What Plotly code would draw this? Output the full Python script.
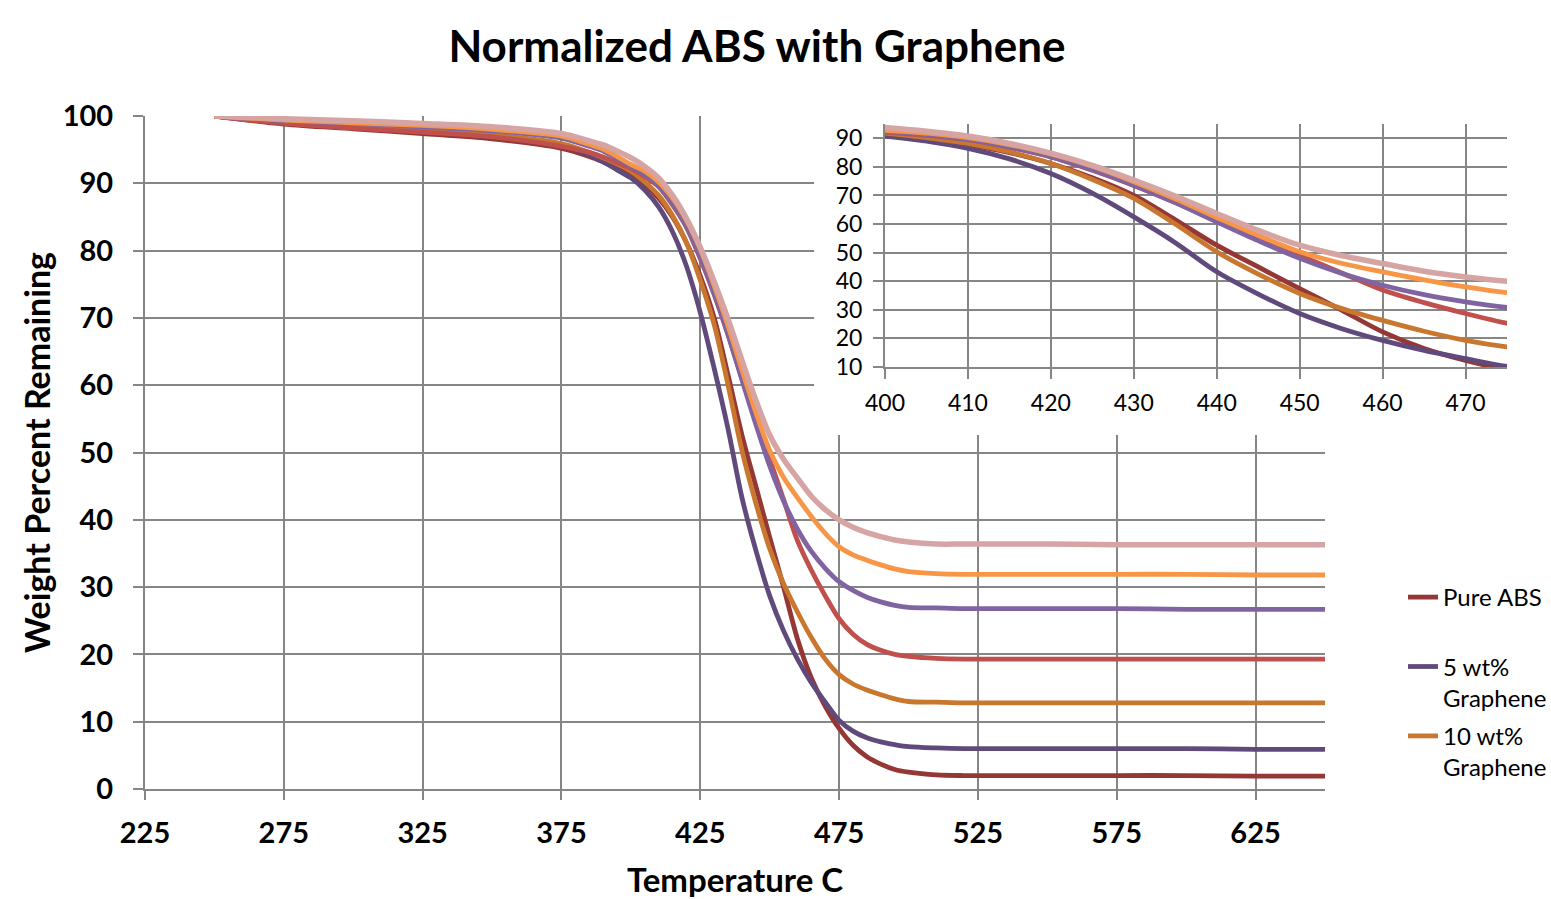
import plotly.graph_objects as go

temperature = [250, 275, 300, 325, 350, 375, 385, 390, 395, 400, 405, 410, 415, 420, 425,
               430, 435, 440, 445, 450, 455, 460, 465, 470, 475, 480, 485, 490, 495, 500,
               510, 520, 550, 575, 600, 625, 650]

pure_abs = [100, 98.8, 98.1, 97.4, 96.6, 95.2, 94.0, 93.2, 92.3, 91.2, 89.8, 87.8, 85.0, 81.2, 76.2,
            70.0, 61.5, 52.6, 45.0, 37.4, 30.0, 22.3, 16.5, 12.3, 9.0, 6.5, 4.8, 3.7, 2.9, 2.5,
            2.1, 2.0, 2.0, 2.0, 2.0, 1.9, 1.9]
g5_a = [100, 99.0, 98.4, 97.8, 97.1, 95.7, 94.2, 93.2, 92.0, 90.8, 89.0, 86.5, 82.8, 77.7, 70.8,
        62.5, 53.5, 43.3, 35.5, 28.7, 23.5, 19.3, 15.8, 12.9, 10.2, 8.6, 7.6, 7.0, 6.6, 6.3,
        6.1, 6.0, 6.0, 6.0, 6.0, 5.9, 5.9]
g10_a = [100, 99.1, 98.5, 97.9, 97.2, 95.9, 94.6, 93.8, 92.9, 91.8, 90.2, 88.2, 85.2, 81.2, 75.6,
         69.0, 60.0, 50.3, 42.5, 35.7, 30.5, 26.3, 22.5, 19.3, 17.0, 15.6, 14.7, 14.0, 13.4, 13.0,
         12.9, 12.8, 12.8, 12.8, 12.8, 12.8, 12.8]
abs_b = [100, 98.9, 98.2, 97.6, 96.9, 95.5, 94.6, 93.9, 93.1, 92.2, 91.0, 89.5, 86.8, 83.5, 78.8,
         73.5, 67.5, 61.0, 55.0, 49.0, 43.0, 36.9, 32.5, 28.7, 25.3, 23.0, 21.5, 20.6, 20.0, 19.7,
         19.4, 19.3, 19.3, 19.3, 19.3, 19.3, 19.3]
g5_b = [100, 99.3, 98.9, 98.4, 97.8, 96.7, 95.5, 94.8, 93.7, 92.5, 91.3, 89.6, 87.0, 83.6, 79.0,
        73.6, 67.5, 60.8, 54.2, 48.0, 42.8, 38.6, 35.3, 32.8, 30.8, 29.5, 28.5, 27.8, 27.3, 27.0,
        26.9, 26.8, 26.8, 26.8, 26.7, 26.7, 26.7]
g10_b = [100, 99.4, 99.0, 98.6, 98.0, 97.0, 95.8, 95.1, 94.0, 92.8, 91.8, 90.2, 87.8, 84.5, 80.2,
         74.8, 68.8, 62.3, 56.0, 50.3, 46.3, 43.3, 40.5, 38.0, 36.0, 34.8, 34.0, 33.3, 32.7, 32.3,
         32.0, 31.9, 31.9, 31.9, 31.9, 31.8, 31.8]
g_c = [100, 99.6, 99.3, 98.9, 98.4, 97.4, 96.3, 95.7, 94.8, 93.8, 92.5, 90.8, 88.2, 84.8, 80.5,
       75.4, 69.8, 63.7, 57.8, 52.6, 49.0, 46.2, 43.5, 41.5, 40.0, 38.9, 38.1, 37.5, 37.0, 36.7,
       36.4, 36.4, 36.4, 36.3, 36.3, 36.3, 36.3]

series = [
    ("Pure ABS<br>\u00a0", pure_abs, "#953735", True),
    ("5 wt%<br>Graphene", g5_a, "#604A7B", True),
    ("10 wt%<br>Graphene", g10_a, "#C9772F", True),
    ("Series 4", abs_b, "#C0504D", False),
    ("Series 5", g5_b, "#8064A2", False),
    ("Series 6", g10_b, "#F79646", False),
    ("Series 7", g_c, "#D6A5A3", False),
]

main_x_ticks = [225, 275, 325, 375, 425, 475, 525, 575, 625]
main_y_ticks = [0, 10, 20, 30, 40, 50, 60, 70, 80, 90, 100]
inset_x_ticks = [400, 410, 420, 430, 440, 450, 460, 470]
inset_y_ticks = [10, 20, 30, 40, 50, 60, 70, 80, 90]

FONT = "Lato"
GRID = "#868686"

fig = go.Figure()
for i, (name, vals, color, show) in enumerate(series):
    w = 5.5 if i == 6 else 4.8
    fig.add_trace(go.Scatter(x=temperature, y=vals, mode="lines", name=name,
                             line=dict(color=color, width=w, shape="spline", smoothing=0.9),
                             showlegend=show, legendgroup=f"g{i}", xaxis="x", yaxis="y"))
for i, (name, vals, color, show) in enumerate(series):
    w = 5.5 if i == 6 else 4.8
    fig.add_trace(go.Scatter(x=temperature, y=vals, mode="lines", name=name,
                             line=dict(color=color, width=w, shape="spline", smoothing=0.9),
                             showlegend=False, legendgroup=f"g{i}", xaxis="x2", yaxis="y2"))

W, H = 1551, 899
ml, mr, mt, mb = 145, 41, 100, 110
pw, ph = W - ml - mr, H - mt - mb

def px_x(p):
    return (p - ml) / pw

def px_y(p):
    return (H - mb - p) / ph

# white panel behind the inset (hides main gridlines)
fig.add_shape(type="rect", xref="x", yref="y", x0=466, x1=660, y0=52.6, y1=101,
              fillcolor="white", line=dict(width=0), layer="between")

fig.update_layout(
    width=W, height=H,
    margin=dict(l=ml, r=mr, t=mt, b=mb, autoexpand=False),
    paper_bgcolor="white", plot_bgcolor="white",
    font=dict(family=FONT, color="black"),
    title=dict(text="<b>Normalized ABS with Graphene</b>", x=757 / W, xref="container",
               xanchor="center", y=1 - 47 / H, yref="container", yanchor="middle",
               font=dict(size=44, family=FONT, color="black")),
    xaxis=dict(domain=[0, px_x(1325)], range=[225, 650], tickvals=main_x_ticks,
               showgrid=True, gridcolor=GRID, gridwidth=2, showline=True, linecolor=GRID,
               linewidth=2, ticks="outside", ticklen=9, tickcolor=GRID, tickwidth=2,
               zeroline=False, ticklabelstandoff=8,
               tickfont=dict(size=29, family=FONT, color="black", weight="bold"),
               title=dict(text="<b>Temperature C</b>", standoff=22,
                          font=dict(size=33, family=FONT, color="black"))),
    yaxis=dict(domain=[0, px_y(116)], range=[0, 100], tickvals=main_y_ticks,
               showgrid=True, gridcolor=GRID, gridwidth=2, showline=True, linecolor=GRID,
               linewidth=2, ticks="outside", ticklen=10, tickcolor=GRID, tickwidth=2,
               zeroline=False, ticklabelstandoff=14,
               tickfont=dict(size=29, family=FONT, color="black", weight="bold"),
               title=dict(text="<b>Weight Percent Remaining</b>", standoff=2,
                          font=dict(size=34, family=FONT, color="black"))),
    xaxis2=dict(domain=[px_x(885), px_x(1507)], range=[400, 475], tickvals=inset_x_ticks,
                anchor="y2", showgrid=True, gridcolor=GRID, gridwidth=2, showline=True,
                linecolor=GRID, linewidth=2, ticks="outside", ticklen=10, tickcolor=GRID,
                tickwidth=2, zeroline=False, ticklabelstandoff=4,
                tickfont=dict(size=23, family=FONT, color="black")),
    yaxis2=dict(domain=[px_y(367), px_y(124)], range=[10, 95], tickvals=inset_y_ticks,
                anchor="x2", showgrid=True, gridcolor=GRID, gridwidth=2, showline=True,
                linecolor=GRID, linewidth=2, ticks="outside", ticklen=10, tickcolor=GRID,
                tickwidth=2, zeroline=False, ticklabelstandoff=6,
                tickfont=dict(size=23, family=FONT, color="black")),
    legend=dict(x=px_x(1403), xanchor="left", y=px_y(575), yanchor="top",
                font=dict(size=24, family=FONT, color="black"), valign="top",
                tracegroupgap=4, bgcolor="rgba(0,0,0,0)"),
    showlegend=True,
)

fig.write_html("out.html", config={"displayModeBar": False},
               post_script="document.body.style.margin='0px';document.body.style.overflow='hidden';")
